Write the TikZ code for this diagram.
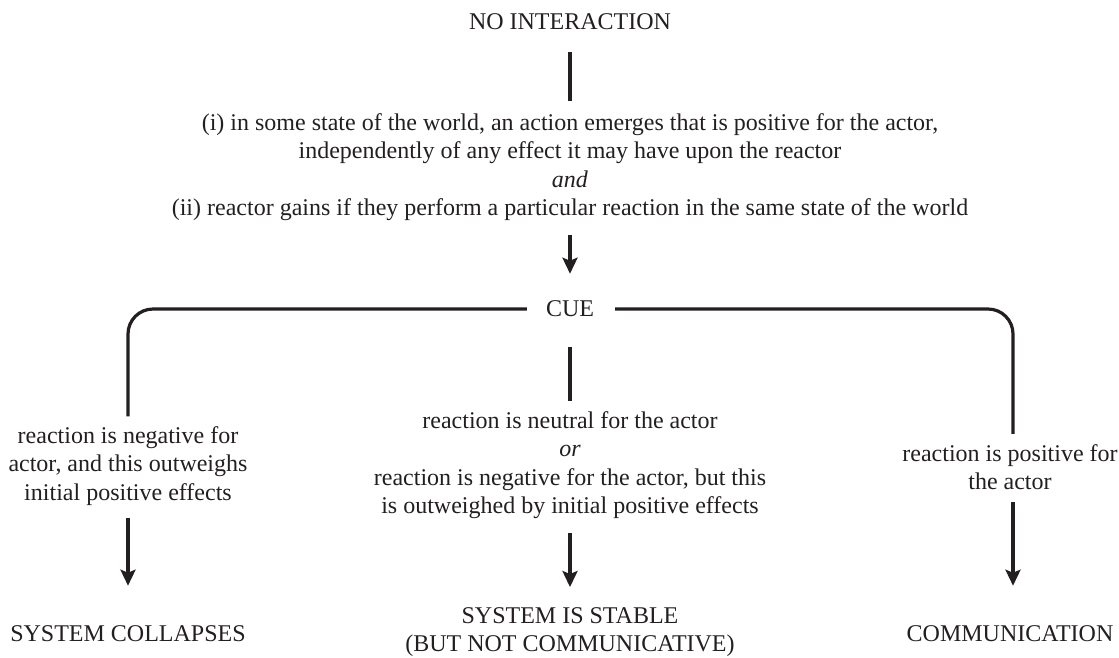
\documentclass[tikz,border=0pt]{standalone}
\usepackage{fontspec}
\setmainfont{Liberation Serif}
\usetikzlibrary{arrows.meta}
\definecolor{ink}{HTML}{231F20}
\tikzset{
  txt/.style={inner sep=0pt, align=center, text=ink, font=\fontsize{24}{28.5}\selectfont},
  ln/.style={draw=ink, line width=3.2pt},
  arr/.style={ln, -{Stealth[length=16pt,width=15pt,inset=3pt]}}
}
\begin{document}
\begin{tikzpicture}[x=1pt,y=-1pt]
\useasboundingbox (0,0) rectangle (1119,657);
\node[txt] (noint) at (570,22) {NO INTERACTION};
\node[txt] (cond) at (570,167) {(i) in some state of the world, an action emerges that is positive for the actor,\\
independently of any effect it may have upon the reactor\\
\textit{and}\\
(ii) reactor gains if they perform a particular reaction in the same state of the world};
\node[txt] (cue) at (570,309) {CUE};
\node[txt] (lt) at (128,466) {reaction is negative for\\actor, and this outweighs\\initial positive effects};
\node[txt] (ct) at (570,465) {reaction is neutral for the actor\\\textit{or}\\reaction is negative for the actor, but this\\is outweighed by initial positive effects};
\node[txt] (rt) at (1010,467) {reaction is positive for\\the actor};
\node[txt] (lo) at (128,634) {SYSTEM COLLAPSES};
\node[txt] (co) at (570,632) {SYSTEM IS STABLE\\(BUT NOT COMMUNICATIVE)};
\node[txt] (ro) at (1010,634) {COMMUNICATION};
% connectors
\draw[ln, shorten <=22pt, shorten >=12pt] (noint) -- (cond);
\draw[arr, shorten <=14pt, shorten >=27pt] (cond) -- (cue);
\draw[ln, rounded corners=25pt] ([xshift=-19pt]cue.west) -| ([yshift=10pt]lt.north);
\draw[ln, rounded corners=25pt] ([xshift=21pt]cue.east) -| ([xshift=3pt,yshift=10pt]rt.north);
\draw[ln, shorten <=30pt, shorten >=10pt] (cue) -- (ct);
\draw[arr, shorten <=12pt, shorten >=40pt] (lt) -- (lo);
\draw[arr, shorten <=14pt, shorten >=20pt] (ct) -- (co);
\draw[arr] ([xshift=3pt,yshift=-12pt]rt.south) -- ([xshift=3pt,yshift=40pt]ro.north);
\end{tikzpicture}
\end{document}
